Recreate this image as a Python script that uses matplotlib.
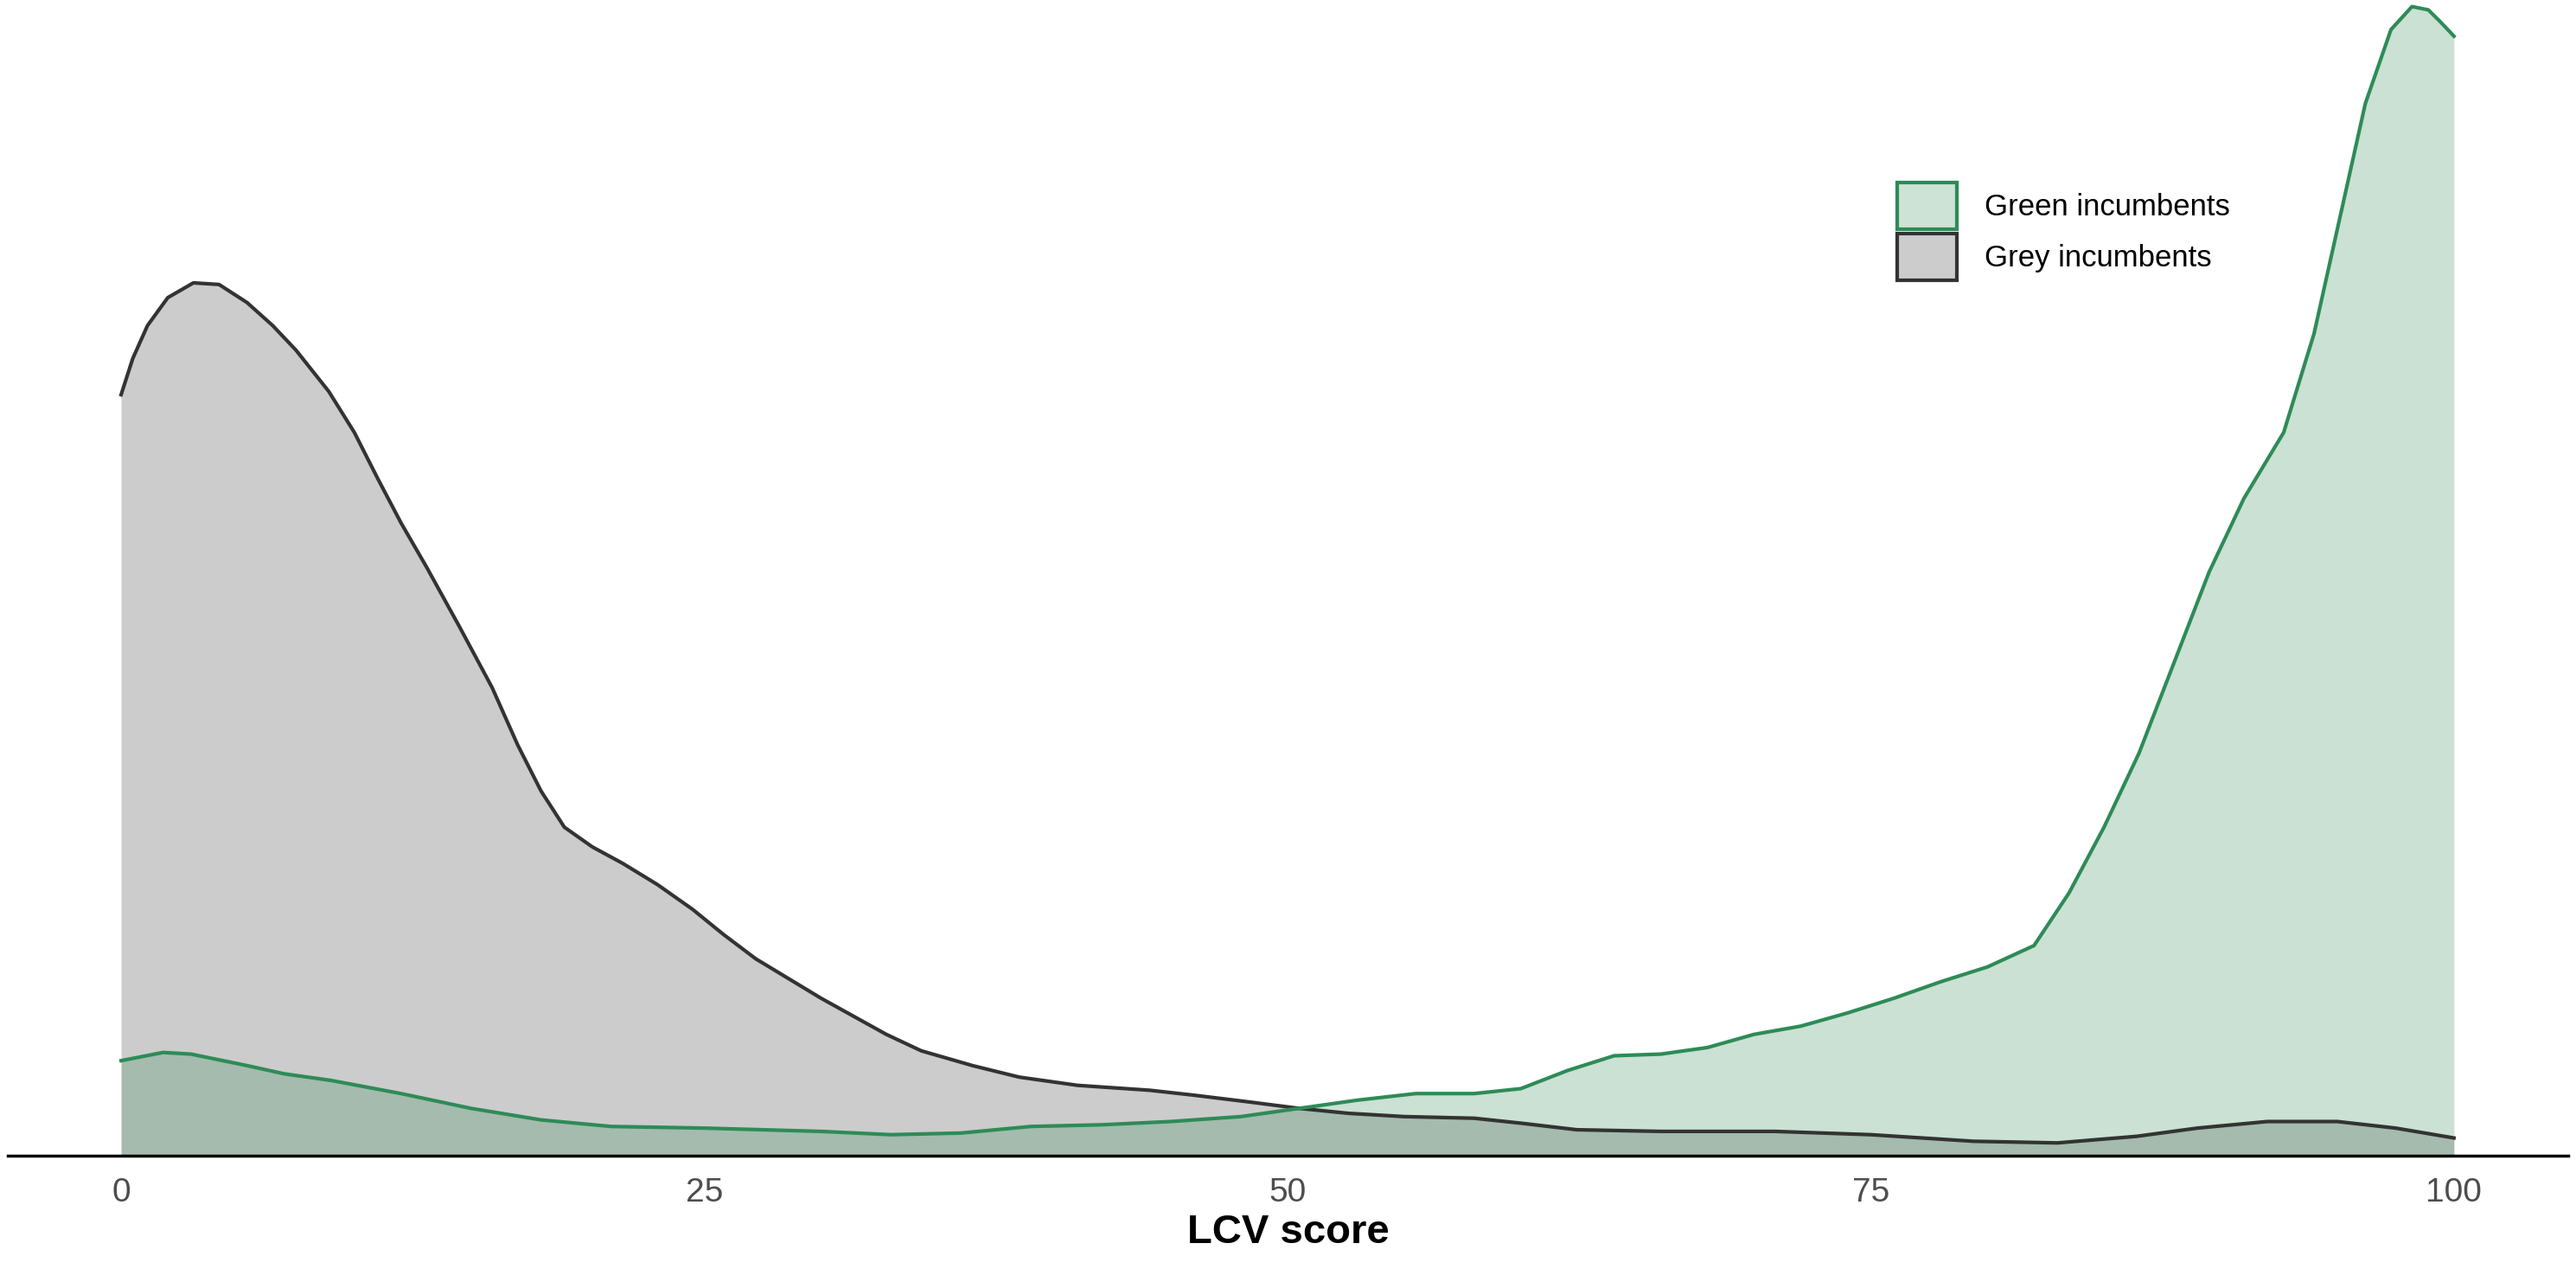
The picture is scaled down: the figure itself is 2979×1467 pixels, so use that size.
import matplotlib.pyplot as plt
from matplotlib.patches import Patch

plt.rcParams['font.family'] = ['Liberation Sans', 'DejaVu Sans']

# LCV score positions and estimated density (arbitrary units)
grey_x = [0, 0.5, 1.13, 2, 3.1, 4.2, 5.4, 6.5, 7.5, 8.9, 10.0, 11.0, 12.0, 13.1, 14.5, 15.9,
          17.0, 18.0, 19.0, 20.2, 21.5, 23.0, 24.5, 25.8, 27.2, 28.6, 30.0, 31.4, 32.8, 34.3,
          36.5, 38.5, 41.0, 44.1, 46.0, 48.3, 50.5, 52.6, 55.0, 58.0, 60.0, 62.4, 66.0, 70.9,
          75.0, 79.4, 83.0, 86.4, 89.0, 92.0, 95.0, 97.5, 100]
grey_y = [463, 485, 505, 522, 531, 530, 519, 505, 490, 465, 440, 412, 385, 358, 322, 285,
          250, 222, 200, 188, 178, 165, 150, 135, 120, 108, 96, 85, 74, 64,
          55, 48, 43, 40, 37, 33, 29, 26, 24, 23, 20, 16, 15, 15,
          13, 9, 8, 12, 17, 21, 21, 17, 11]

green_x = [0, 1.8, 3, 5.4, 7, 9, 12, 15, 18, 21, 25, 30, 33, 36, 39, 42, 45, 48, 50, 53,
           55.5, 58, 60, 62, 64, 66, 68, 70, 72, 74, 76, 78, 80, 82, 83.5, 85, 86.5, 88,
           89.5, 91, 92.7, 94, 95.1, 96.2, 97.3, 98.2, 98.9, 99.4, 100]
green_y = [58, 63, 62, 55, 50, 46, 38, 29, 22, 18, 17, 15, 13, 14, 18, 19, 21, 24, 28, 34,
           38, 38, 41, 52, 61, 62, 66, 74, 79, 87, 96, 106, 115, 128, 160, 200, 245, 300,
           355, 400, 440, 500, 570, 640, 685, 699, 697, 690, 681]

fig = plt.figure(figsize=(29.79, 14.67), dpi=100)
ax = fig.add_axes([0.003, 0.089, 0.994, 0.911])

ax.fill_between(grey_x, grey_y, color="#cccccc", lw=0)
ax.plot(grey_x, grey_y, color="#333333", lw=3)
ax.fill_between(green_x, green_y, color="#2e8b57", alpha=0.25, lw=0)
ax.plot(green_x, green_y, color="#2e8b57", lw=3)

ax.set_xlim(-4.86, 104.9)
ax.set_ylim(0, 703)
ax.set_yticks([])
ax.set_xticks([0, 25, 50, 75, 100])
ax.tick_params(axis="x", length=0, labelsize=28, labelcolor="#4d4d4d", pad=18)
for s in ["top", "right", "left"]:
    ax.spines[s].set_visible(False)
ax.spines["bottom"].set_linewidth(2.5)
ax.set_xlabel("LCV score", fontsize=34, fontweight="bold", labelpad=4)

handles = [Patch(facecolor="#cce3d5", edgecolor="#2e8b57", lw=3, label="Green incumbents"),
           Patch(facecolor="#cccccc", edgecolor="#333333", lw=3, label="Grey incumbents")]
ax.legend(handles=handles, loc="upper left", bbox_to_anchor=(0.732, 0.855), frameon=False,
          borderpad=0, fontsize=25, handlelength=2.0, handleheight=2.0, handletextpad=0.9,
          labelspacing=0.15)

fig.savefig("out.png", dpi=100)
